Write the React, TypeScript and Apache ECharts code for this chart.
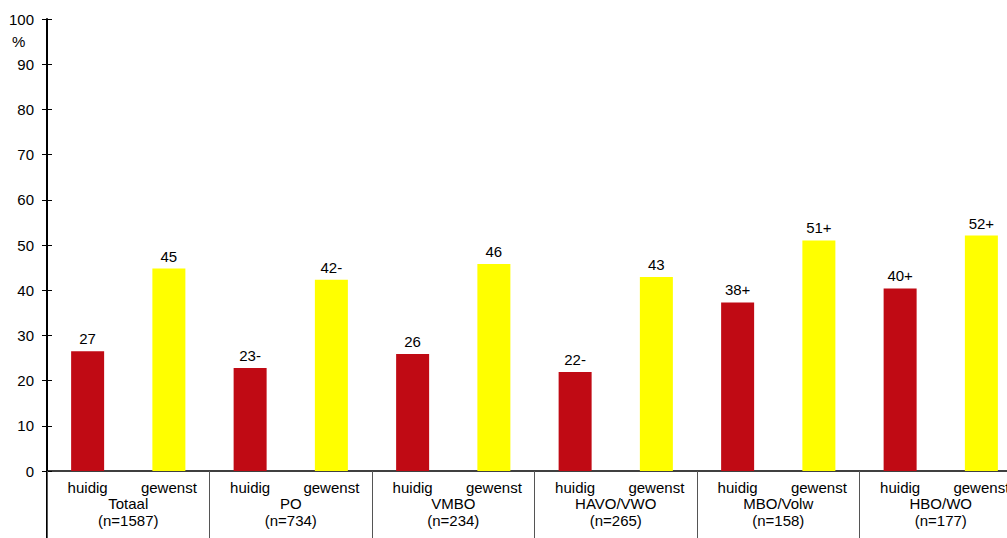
import React, { useEffect, useRef } from "react";
import * as echarts from "echarts";

const groups = ["Totaal\n(n=1587)", "PO\n(n=734)", "VMBO\n(n=234)", "HAVO/VWO\n(n=265)", "MBO/Volw\n(n=158)", "HBO/WO\n(n=177)"];
const subCategories = ["huidig", "gewenst"];
const values = [26.5, 44.8, 22.8, 42.3, 25.9, 45.8, 21.9, 42.9, 37.3, 51.0, 40.4, 52.1];
const valueLabels = ["27", "45", "23-", "42-", "26", "46", "22-", "43", "38+", "51+", "40+", "52+"];
const yTicks = { min: 0, max: 100, interval: 10 };

const RED = "#C00A14";
const YELLOW = "#FFFF00";
const FONT = "'Liberation Sans', Arial, sans-serif";
const FS = 15;

export default function App() {
  const ref = useRef<HTMLDivElement>(null);
  useEffect(() => {
    if (!ref.current) return;
    const chart = echarts.init(ref.current, null, { renderer: "svg" });
    const cats: string[] = [];
    groups.forEach(() => subCategories.forEach((s) => cats.push(s)));
    const data = values.map((v, i) => ({
      value: v,
      itemStyle: { color: i % 2 === 0 ? RED : YELLOW },
      label: { formatter: valueLabels[i] },
    }));
    chart.setOption({
      animation: false,
      backgroundColor: "#ffffff",
      textStyle: { fontFamily: FONT },
      grid: { left: 47, top: 19, right: 0, height: 452, containLabel: false },
      xAxis: [
        {
          type: "category",
          data: cats,
          position: "bottom",
          axisLine: { show: true, lineStyle: { color: "#000", width: 1.5 } },
          axisTick: { show: false },
          axisLabel: { interval: 0, margin: 9, fontSize: FS, color: "#000", fontFamily: FONT },
        },
        {
          type: "category",
          data: groups,
          position: "bottom",
          axisLine: { show: false },
          axisTick: { show: true, interval: 0, length: 70, lineStyle: { color: "#555", width: 1 } },
          axisLabel: { interval: 0, margin: 24, fontSize: FS, lineHeight: 17, color: "#000", fontFamily: FONT },
        },
      ],
      yAxis: [
        {
          type: "value",
          min: yTicks.min,
          max: yTicks.max,
          interval: yTicks.interval,
          axisLine: { show: true, lineStyle: { color: "#000", width: 2 } },
          axisTick: { show: true, length: 5, lineStyle: { color: "#000", width: 1 } },
          axisLabel: { margin: 13, fontSize: FS, color: "#000", fontFamily: FONT },
          splitLine: { show: false },
        },
        {
          type: "value",
          min: yTicks.min,
          max: yTicks.max,
          interval: yTicks.interval,
          position: "left",
          axisLine: { show: false },
          axisTick: { show: true, inside: true, length: 5, lineStyle: { color: "#000", width: 1 } },
          axisLabel: { show: false },
          splitLine: { show: false },
        },
      ],
      graphic: [
        { type: "text", left: 12, top: 34, style: { text: "%", fontSize: FS, fill: "#000", fontFamily: FONT } },
        { type: "line", shape: { x1: 47, y1: 471, x2: 47, y2: 538 }, style: { stroke: "#000", lineWidth: 2 } },
      ],
      series: [
        {
          type: "bar",
          xAxisIndex: 0,
          yAxisIndex: 0,
          data,
          barWidth: 33,
          label: { show: true, position: "top", distance: 5, fontSize: FS, color: "#000", fontFamily: FONT },
        },
      ],
    });
    return () => chart.dispose();
  }, []);
  return (
    <div style={{ position: "fixed", left: 0, top: 0, width: 1007, height: 538, overflow: "hidden", background: "#fff" }}>
      <div ref={ref} style={{ width: 1022, height: 538 }} />
    </div>
  );
}
